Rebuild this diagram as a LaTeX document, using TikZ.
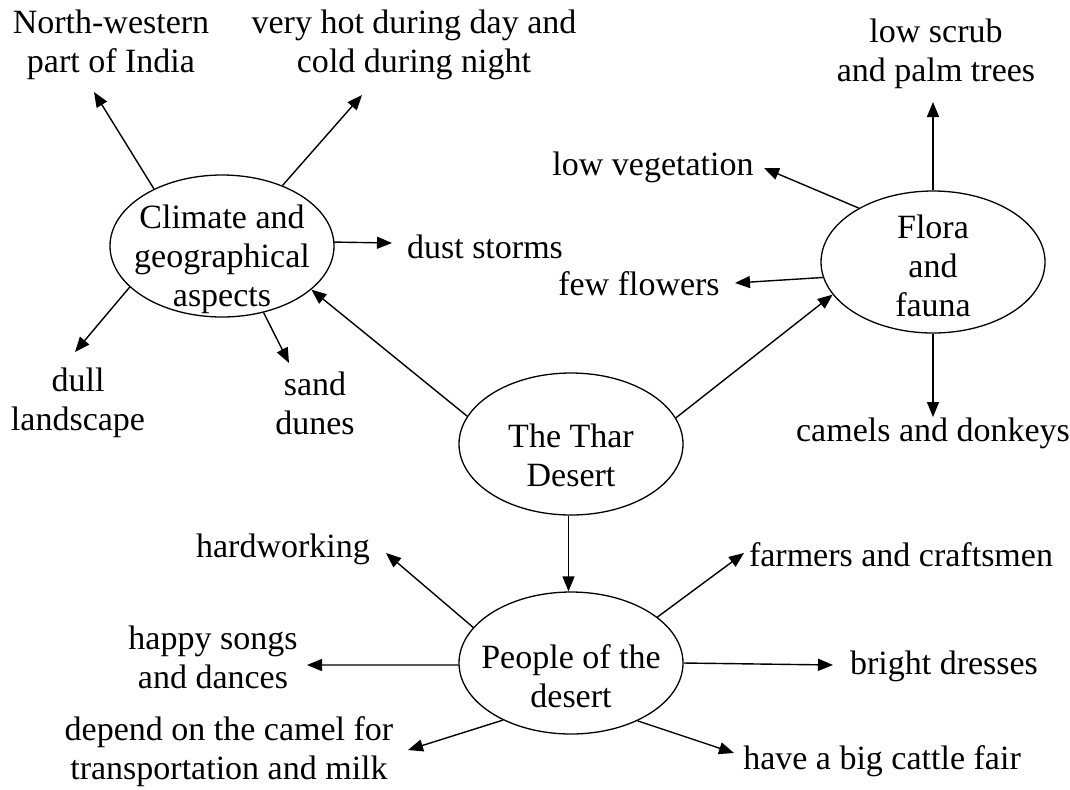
\documentclass[tikz,border=0pt]{standalone}
\usepackage{fontspec}
\setmainfont{Liberation Serif}
\usetikzlibrary{shapes.geometric,arrows.meta}
\begin{document}
\begin{tikzpicture}[x=0.5pt,y=-0.5pt,
  every node/.style={font=\fontsize{17}{19.5}\selectfont, align=center, inner sep=0pt},
  bubble/.style={ellipse, draw, line width=0.65pt, minimum width=112pt, minimum height=71pt},
  arr/.style={-{Triangle[length=7.5pt,width=6pt]}, line width=0.7pt}]
\useasboundingbox (0,0) rectangle (1070,789);

% ellipses
\node[bubble] (clim) at (222,246) {};
\node (climt) at (222,259) {Climate and\\geographical\\aspects};
\node[bubble] (flora) at (933,262) {};
\node (florat) at (933,266) {Flora\\and\\fauna};
\node[bubble] (thar) at (571,444) {};
\node (thart) at (571,455) {The Thar\\Desert};
\node[bubble] (people) at (571,663) {};
\node (peoplet) at (571,676) {People of the\\desert};

% labels
\node (nw) at (111,45) {North-western\\part of India};
\node (hot) at (414,45) {very hot during day and\\cold during night};
\node (dust) at (485,247) {dust storms};
\node (dull) at (78,403) {dull\\landscape};
\node (sand) at (315,403) {sand\\dunes};
\node (scrub) at (936,54) {low scrub\\and palm trees};
\node (veg) at (653,167) {low vegetation};
\node (few) at (639,284) {few flowers};
\node (camels) at (933,433) {camels and donkeys};
\node (hard) at (283,549) {hardworking};
\node (farm) at (901,555) {farmers and craftsmen};
\node (happy) at (213,657) {happy songs\\and dances};
\node (bright) at (944,666) {bright dresses};
\node (dep) at (229,752) {depend on the camel for\\transportation and milk};
\node (cattle) at (882,761) {have a big cattle fair};

% arrow tips
\coordinate (cnw) at (94,92);
\coordinate (cne) at (362,95);
\coordinate (cdust) at (392,243);
\coordinate (cdull) at (75,352);
\coordinate (csand) at (289,363);
\coordinate (fup) at (933,102);
\coordinate (fveg) at (764,168);
\coordinate (ffew) at (735,283);
\coordinate (fdown) at (933,417);
\coordinate (phard) at (386,553);
\coordinate (pfarm) at (744,553);
\coordinate (phappy) at (307,665);
\coordinate (pbright) at (833,665);
\coordinate (pdep) at (408,750);
\coordinate (pcattle) at (734,753);

% connectors
\draw[arr] (clim.140) -- (cnw);
\draw[arr] (clim.45) -- (cne);
\draw[arr] (clim.2) -- (cdust);
\draw[arr] (clim.204) -- (cdull);
\draw[arr] (clim.302) -- (csand);

\draw[arr] (flora.north) -- (fup);
\draw[arr] (flora.144) -- (fveg);
\draw[arr] (flora.188) -- (ffew);
\draw[arr] (flora.south) -- (fdown);

\draw[arr] (thar.165) -- (clim.334);
\draw[arr] (thar.14) -- (flora.198);
\draw[arr] (thar.268) -- (people.92);

\draw[arr] (people.160) -- (phard);
\draw[arr] (people.28) -- (pfarm);
\draw[arr] (people.181) -- (phappy);
\draw[arr] (people.0) -- (pbright);
\draw[arr] (people.220) -- (pdep);
\draw[arr] (people.319) -- (pcattle);
\end{tikzpicture}
\end{document}
